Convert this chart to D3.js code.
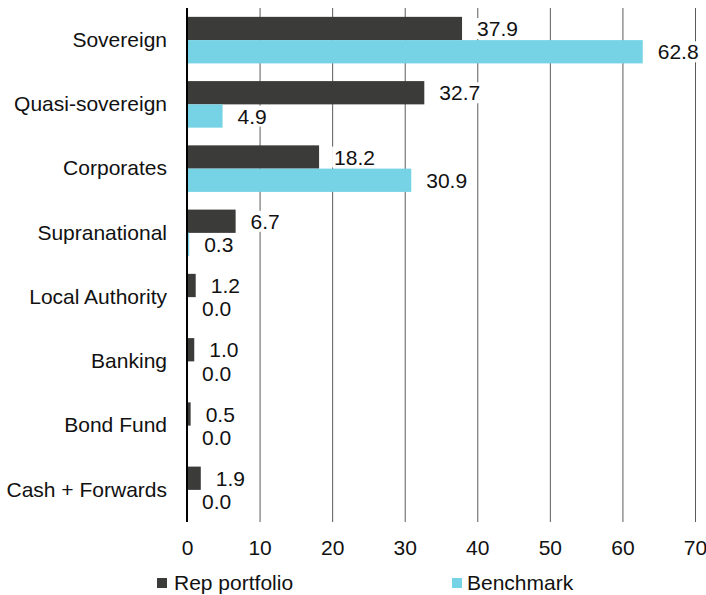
<!DOCTYPE html>
<html>
<head>
<meta charset="utf-8">
<script src="https://cdn.jsdelivr.net/npm/d3@7"></script>
</head>
<body style="margin:0;background:#fff">
<div id="chart"></div>
<script>
// data
var categories = ['Sovereign','Quasi-sovereign','Corporates','Supranational','Local Authority','Banking','Bond Fund','Cash + Forwards'];
var seriesNames = ['Rep portfolio','Benchmark'];
var repValues = [37.9, 32.7, 18.2, 6.7, 1.2, 1.0, 0.5, 1.9];
var benchValues = [62.8, 4.9, 30.9, 0.3, 0.0, 0.0, 0.0, 0.0];
var xTicks = [0,10,20,30,40,50,60,70];
var colors = ['#3b3c3a','#75d3e5'];

var width = 706, height = 595;
var margin = {left:187, top:8, right:11, bottom:73};
var plotW = 508, plotH = height - margin.top - margin.bottom;

function font(sel){
  return sel.style('font-family','"Liberation Sans"').style('font-size','21px').style('fill','#111');
}

var svg = d3.select('#chart').append('svg').attr('width',width).attr('height',height);
var g = svg.append('g').attr('transform','translate('+margin.left+','+margin.top+')');

var xscale = d3.scaleLinear().domain([0,70]).range([0,plotW]);
var yscale = d3.scaleBand().domain(categories).range([0,plotH]).padding(0);
var subscale = d3.scaleBand().domain(seriesNames).range([0,yscale.bandwidth()]).paddingInner(0).paddingOuter(0.38);

// gridlines
var grid = g.append('g').attr('class','grid')
  .call(d3.axisBottom(xscale).tickValues(xTicks.slice(1)).tickSize(plotH).tickFormat(''));
grid.select('.domain').remove();
grid.selectAll('line').attr('stroke','#5a5a5a').attr('stroke-width',1);

// x tick labels
var xaxis = g.append('g').attr('transform','translate(0,'+plotH+')')
  .call(d3.axisBottom(xscale).tickValues(xTicks).tickSize(0).tickPadding(18).tickFormat(d3.format('d')));
xaxis.select('.domain').remove();
font(xaxis.selectAll('text'));

// category labels
var yaxis = g.append('g')
  .call(d3.axisLeft(yscale).tickSize(0).tickPadding(20));
yaxis.select('.domain').remove();
font(yaxis.selectAll('text'));

var rows = categories.map(function(c,i){ return {cat:c, values:[repValues[i], benchValues[i]]}; });

var groups = g.selectAll('.grp').data(rows).enter().append('g')
  .attr('class','grp')
  .attr('transform',function(d){ return 'translate(0,'+yscale(d.cat)+')'; });

groups.selectAll('rect').data(function(d){ return d.values.map(function(v,j){ return {s:seriesNames[j], v:v, j:j}; }); })
  .enter().append('rect')
  .attr('x',0)
  .attr('y',function(d){ return subscale(d.s); })
  .attr('height',subscale.bandwidth())
  .attr('width',function(d){ return xscale(d.v); })
  .style('fill',function(d){ return colors[d.j]; });

// value labels with white background
var labels = groups.selectAll('.lab').data(function(d){ return d.values.map(function(v,j){ return {s:seriesNames[j], v:v}; }); })
  .enter().append('g').attr('class','lab');
font(labels.append('text')
  .attr('x',function(d){ return xscale(d.v) + 15; })
  .attr('y',function(d){ return subscale(d.s) + subscale.bandwidth()/2; })
  .attr('dy','0.36em')
  .text(function(d){ return d3.format('.1f')(d.v); }));
labels.each(function(){
  var t = d3.select(this).select('text');
  var b = t.node().getBBox();
  d3.select(this).insert('rect','text')
    .attr('x',b.x-2).attr('y',b.y+1).attr('width',b.width+4).attr('height',b.height-2)
    .attr('fill','#fff');
});

// y axis line
g.append('line').attr('x1',0).attr('x2',0).attr('y1',0).attr('y2',plotH)
  .attr('stroke','#000').attr('stroke-width',2);

// legend
var legendPos = [157, 452];
var legend = svg.selectAll('.leg').data(seriesNames).enter().append('g')
  .attr('transform',function(d,i){ return 'translate('+legendPos[i]+',578)'; });
legend.append('rect').attr('width',10).attr('height',10).style('fill',function(d,i){ return colors[i]; });
font(legend.append('text').attr('x',function(d,i){ return i === 0 ? 17 : 15; }).attr('y',12)
  .text(function(d){ return d; }));
</script>
</body>
</html>
